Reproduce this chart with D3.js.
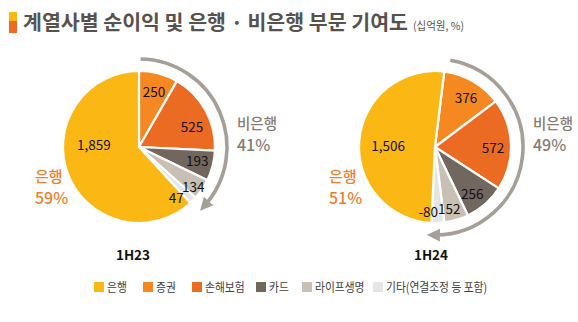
<!DOCTYPE html>
<html><head><meta charset="utf-8">
<script src="https://cdn.jsdelivr.net/npm/d3@7"></script>
<style>
html,body{margin:0;padding:0;background:#fff;}
svg{display:block;font-family:"Noto Sans CJK KR","Noto Sans",sans-serif;}
</style></head>
<body>
<svg id="chart" width="578" height="322"></svg>
<script>
// ---- data ----
const categories = ["은행", "증권", "손해보험", "카드", "라이프생명", "기타(연결조정 등 포함)"];
const periods = ["1H23", "1H24"];
const values1H23 = [1859, 250, 525, 193, 134, 47];
const values1H24 = [1506, 376, 572, 256, 152, -80];
const bankShare = ["59%", "51%"];
const nonBankShare = ["41%", "49%"];
const colors = ["#FBB714", "#F58820", "#EC6B23", "#71675E", "#C8BFB5", "#E5E5E5"];

// ---- layout ----
const svg = d3.select("#chart");
const fmt = d3.format(",");
const order = [1, 2, 3, 4, 5, 0]; // clockwise from 12 o'clock, bank last
const condense = (sel, k) => sel.each(function () {
  const w = this.getComputedTextLength();
  d3.select(this).attr("textLength", w * k).attr("lengthAdjust", "spacingAndGlyphs");
});
const pies = [
  {vals: values1H23, cx: 139, cy: 147, r: 76, rot: 0, arrowStart: 1, arrowEnd: 137,
   nudges: {0: [9, -24], 1: [0, 0], 2: [2, 7], 3: [2, -1], 4: [6, 7], 5: [-4, 9]},
   title: [133, 260], bankLbl: [35, 182], nbLbl: [237, 129]},
  {vals: values1H24, cx: 435, cy: 147, r: 76, rot: 7, arrowStart: 10, arrowEnd: 186,
   nudges: {0: [11, 3], 1: [2, 0], 2: [0, 2], 3: [-1, 2], 4: [-2, 5], 5: [-9, 6]},
   title: [431, 260], bankLbl: [329, 182], nbLbl: [533, 129]}
];

// title
svg.append("rect").attr("x", 9).attr("y", 12).attr("width", 8).attr("height", 9).attr("fill", "#FBB714");
svg.append("rect").attr("x", 9).attr("y", 21).attr("width", 8).attr("height", 12).attr("fill", "#EC6B23");
svg.append("text").attr("x", 23).attr("y", 30).attr("font-size", 20).attr("font-weight", "bold")
  .attr("fill", "#57524E").attr("textLength", 385).attr("lengthAdjust", "spacingAndGlyphs")
  .text("계열사별 순이익 및 은행 · 비은행 부문 기여도");
svg.append("text").attr("x", 413).attr("y", 30).attr("font-size", 11).attr("fill", "#57524E")
  .attr("textLength", 51).attr("lengthAdjust", "spacingAndGlyphs").text("(십억원, %)");

const defs = svg.append("defs");
defs.append("marker").attr("id", "ah").attr("viewBox", "0 0 10 10").attr("refX", 5).attr("refY", 5)
  .attr("markerWidth", 3.6).attr("markerHeight", 3.6).attr("orient", "auto")
  .append("path").attr("d", "M0,0 L10,5 L0,10 Z").attr("fill", "#A59F98");

pies.forEach((p, pi) => {
  const data = order.map(i => ({i, v: p.vals[i]}));
  const rot = p.rot * Math.PI / 180;
  const pie = d3.pie().sort(null).value(d => Math.abs(d.v))
    .startAngle(rot).endAngle(rot + 2 * Math.PI);
  const arcs = pie(data);
  const arc = d3.arc().innerRadius(0).outerRadius(p.r);
  const lblArc = d3.arc().innerRadius(58).outerRadius(58);
  const g = svg.append("g").attr("transform", `translate(${p.cx},${p.cy})`);
  g.selectAll("path.slice").data(arcs).join("path").attr("class", "slice")
    .attr("d", arc).attr("fill", d => colors[d.data.i])
    .attr("stroke", "#fff").attr("stroke-width", 2.2).attr("stroke-linejoin", "round");
  g.selectAll("text.val").data(arcs).join("text").attr("class", "val")
    .attr("x", d => lblArc.centroid(d)[0] + p.nudges[d.data.i][0])
    .attr("y", d => lblArc.centroid(d)[1] + p.nudges[d.data.i][1])
    .attr("text-anchor", "middle").attr("dominant-baseline", "central")
    .attr("font-size", 13.5).attr("fill", "#111")
    .text(d => d.data.v < 0 ? "-" + fmt(-d.data.v) : fmt(d.data.v));

  // arrow arc around non-bank
  const R = 88;
  const a0 = p.arrowStart * Math.PI / 180, a1 = (p.arrowEnd - 5) * Math.PI / 180;
  const pt = a => [R * Math.sin(a), -R * Math.cos(a)];
  const s = pt(a0), e = pt(a1);
  g.append("path").attr("d", `M${s[0]},${s[1]} A${R},${R} 0 ${a1 - a0 > Math.PI ? 1 : 0} 1 ${e[0]},${e[1]}`)
    .attr("fill", "none").attr("stroke", "#A59F98").attr("stroke-width", 3.6)
    .attr("marker-end", "url(#ah)");

  // labels
  svg.append("text").attr("x", p.title[0]).attr("y", p.title[1]).attr("text-anchor", "middle")
    .attr("font-size", 13.5).attr("font-weight", "bold").attr("fill", "#111").text(periods[pi]);
  svg.append("text").attr("x", p.bankLbl[0]).attr("y", p.bankLbl[1]).attr("font-size", 15)
    .attr("font-weight", 500).attr("fill", "#F07F2C").text("은행");
  svg.append("text").attr("x", p.bankLbl[0]).attr("y", p.bankLbl[1] + 22).attr("font-size", 16)
    .attr("font-weight", 500).attr("fill", "#F07F2C").text(bankShare[pi]);
  svg.append("text").attr("x", p.nbLbl[0]).attr("y", p.nbLbl[1]).attr("font-size", 14.5)
    .attr("font-weight", 500).attr("fill", "#857C74").text("비은행");
  svg.append("text").attr("x", p.nbLbl[0]).attr("y", p.nbLbl[1] + 22).attr("font-size", 16)
    .attr("font-weight", 500).attr("fill", "#857C74").text(nonBankShare[pi]);
});

// legend
const legX = [94, 143, 192, 256, 302, 373];
const lg = svg.append("g");
categories.forEach((c, i) => {
  lg.append("rect").attr("x", legX[i]).attr("y", 282).attr("width", 10).attr("height", 10).attr("fill", colors[i]);
  lg.append("text").attr("x", legX[i] + 13).attr("y", 291.5).attr("font-size", 12.5).attr("fill", "#404040")
    .text(c).call(condense, 0.86);
});
</script>
</body></html>
